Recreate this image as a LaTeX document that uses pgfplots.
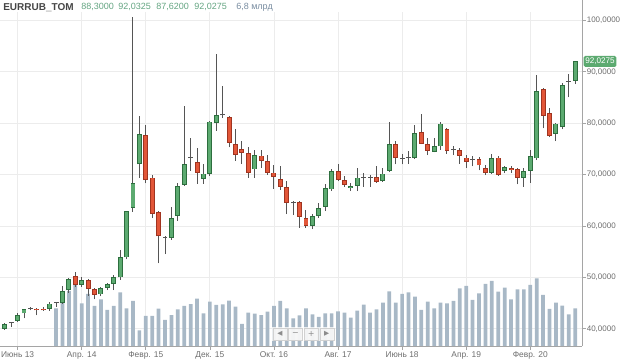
\documentclass[border=0pt]{standalone}
\usepackage{fontspec}
\setmainfont{Liberation Sans}
\newfontfamily\symfont{DejaVu Sans}
\usepackage{pgfplots}
\usepackage{pgfplotstable}
\pgfplotsset{compat=1.18}
\definecolor{cgreen}{RGB}{92,170,112}
\definecolor{cgreenb}{RGB}{45,110,62}
\definecolor{cred}{RGB}{226,86,56}
\definecolor{credb}{RGB}{160,52,32}
\definecolor{wick}{RGB}{85,85,85}
\definecolor{vol}{RGB}{168,184,198}
\definecolor{gridc}{RGB}{236,236,236}
\definecolor{axc}{RGB}{165,165,165}
\definecolor{lab}{RGB}{110,110,110}
\definecolor{hdr}{RGB}{70,70,70}
\definecolor{hdrnum}{RGB}{100,165,130}
\definecolor{hdrvol}{RGB}{120,140,160}

% monthly candles, i = 0 is April 2013
\pgfplotstableread{
i O H L C
0 40.0 41.1 39.8 40.9
2 41.6 43.0 41.4 42.7
3 43.0 43.9 42.0 43.8
7 43.8 45.2 43.5 44.9
9 45.0 48.3 44.9 47.4
10 47.5 49.8 47.0 49.6
12 48.6 50.0 48.2 49.5
15 46.7 48.1 46.3 47.9
16 47.9 49.0 47.5 48.7
17 48.7 50.4 47.5 50.1
18 50.0 55.3 49.5 53.9
19 53.9 63.0 53.5 62.9
20 63.5 100.7 62.8 68.4
21 72.0 81.4 69.4 77.8
26 57.7 63.6 57.3 61.6
27 62.0 68.4 61.0 67.8
28 68.0 83.3 67.8 72.0
31 69.1 72.0 68.2 70.2
32 70.2 80.4 69.8 80.3
33 80.1 93.5 78.5 81.6
39 71.0 74.8 69.4 73.8
48 60.0 62.4 59.4 61.9
49 61.9 64.5 61.6 63.5
50 63.7 68.1 62.9 67.4
51 67.1 71.0 66.9 70.7
54 67.4 68.4 66.8 67.8
55 67.8 71.3 66.8 69.4
59 68.7 71.2 68.6 70.2
60 70.7 80.3 70.5 76.0
64 73.2 79.7 73.0 78.1
67 74.4 77.2 74.3 75.5
68 75.5 80.3 74.8 79.9
76 70.4 74.1 70.2 73.15
78 70.7 71.6 70.3 71.5
81 69.3 71.2 67.6 70.7
82 70.7 74.7 68.4 73.6
83 73.15 89.4 72.8 86.3
86 77.9 80.0 76.5 79.9
87 79.2 87.8 78.8 87.4
89 88.3 92.0325 87.62 92.0275
}\tgreen

\pgfplotstableread{
i O H L C
5 43.9 44.0 42.6 43.6
6 43.9 44.2 43.5 43.6
11 50.3 51.1 48.2 48.6
13 49.4 49.6 46.4 47.7
14 47.7 48.0 45.7 46.6
22 77.7 79.7 68.3 68.9
23 69.4 70.0 61.6 62.4
24 62.7 62.9 52.7 58.0
30 72.5 75.2 68.2 70.4
35 81.2 81.3 75.3 76.2
36 76.0 78.8 72.7 73.9
37 74.9 76.5 72.1 74.2
38 74.2 75.3 69.4 70.4
40 73.7 74.7 71.3 72.6
41 72.6 73.8 70.0 70.35
42 70.4 71.8 67.2 69.5
43 69.1 71.6 67.0 67.6
44 67.6 68.7 62.3 64.5
46 64.6 64.8 59.7 61.8
47 61.6 63.2 59.7 60.0
52 70.7 72.0 68.7 68.9
53 68.9 69.7 67.6 68.0
58 69.5 71.6 68.4 68.6
61 76.0 76.6 72.0 73.2
65 78.3 81.7 75.9 76.0
66 75.9 77.2 73.8 74.6
69 78.8 79.0 74.1 74.6
71 74.7 75.1 72.1 73.7
72 73.3 73.8 71.3 72.5
74 73.0 73.4 70.8 71.8
75 71.3 71.8 69.9 70.4
77 73.3 73.6 69.8 69.9
79 71.2 71.6 70.4 70.9
80 71.0 71.3 68.1 69.4
84 86.6 86.8 79.0 81.4
85 82.0 83.0 77.3 77.5
}\tred

\pgfplotstableread{
i O H L C
1 41.1 41.3 40.3 41.3
4 43.85 44.3 43.6 44.05
8 44.95 45.2 44.3 45.15
25 57.75 58.1 54.5 57.95
29 73.4 77.1 70.7 73.2
34 81.7 87.2 81.0 81.5
45 64.6 64.8 62.1 64.4
56 69.5 70.4 67.6 69.3
57 69.4 69.9 67.6 69.6
62 73.2 74.0 72.0 73.0
63 73.2 74.5 72.1 73.4
70 75.0 75.5 73.8 74.8
73 73.1 73.7 71.6 72.9
88 88.0 89.5 85.0 88.2
}\tdoji

% volume bars (drawn on the price scale as in the screenshot)
\pgfplotstableread{
i v
8 43.99
9 45.12
10 47.35
11 48.72
12 44.92
13 46.77
14 44.44
15 45.74
16 43.66
17 44.44
18 47.06
19 43.99
20 45.41
21 39.67
22 42.53
23 42.53
24 43.93
25 41.71
26 42.68
27 43.79
28 44.47
29 44.79
30 45.86
31 43.02
32 45.27
33 44.63
34 44.77
35 45.47
36 44.30
37 40.93
38 43.13
39 42.94
40 42.68
41 43.33
42 44.44
43 45.41
44 43.99
45 42.04
46 42.63
47 43.99
48 42.82
49 42.30
50 43.02
51 43.02
52 43.40
53 43.13
54 42.16
55 43.52
56 44.69
57 43.13
58 43.79
59 45.08
60 47.30
61 45.08
62 46.77
63 47.10
64 46.25
65 43.66
66 45.27
67 43.99
68 45.08
69 44.96
70 45.41
71 47.88
72 48.33
73 45.60
74 46.91
75 48.72
76 49.30
77 47.22
78 48.00
79 45.74
80 47.68
81 47.68
82 48.52
83 49.82
84 46.58
85 43.85
86 45.08
87 44.49
88 42.82
89 43.99
}\tvol

\pgfplotsset{
  wickst/.style={draw=none, mark=none, forget plot,
    error bars/.cd, y dir=plus, y explicit, error mark=none,
    error bar style={line width=0.75pt, draw=wick}},
  bodyst/.style 2 args={draw=none, mark=none, forget plot,
    error bars/.cd, y dir=plus, y explicit, error mark=none,
    error bar style={line width=#1, draw=#2}},
  bodyin/.style 2 args={draw=none, mark=none, forget plot,
    error bars/.cd, y dir=plus, y explicit, error mark=none,
    error bar style={line width=#1, draw=#2, shorten <=0.6pt, shorten >=0.6pt}},
}

\begin{document}
\begin{tikzpicture}
\path[use as bounding box] (0,0) rectangle (465pt,269.25pt);
\begin{axis}[
  at={(0pt,9.75pt)}, anchor=south west, scale only axis,
  width=436.5pt, height=250.5pt,
  xmin=-0.749, xmax=90.07, ymin=36.65, ymax=101.63,
  axis x line*=bottom, axis y line*=right,
  axis line style={draw=axc, line width=0.6pt, -},
  xtick={2,12,...,82},
  xticklabels={Июнь 13,Апр. 14,Февр. 15,Дек. 15,Окт. 16,Авг. 17,Июнь 18,Апр. 19,Февр. 20},
  ytick={40,50,...,100},
  grid=major, major grid style={draw=gridc, line width=0.6pt},
  tick align=outside, major tick length=3pt,
  tick style={draw=axc, line width=0.5pt},
  /pgf/number format/assume math mode=true,
  ticklabel style={font=\fontsize{6.3}{7}\selectfont, text=lab},
  xticklabel style={yshift=2.6pt},
  yticklabel style={font=\fontsize{6}{7}\selectfont, inner xsep=0.8pt, xshift=-0.4pt,
     /pgf/number format/fixed, /pgf/number format/fixed zerofill,
     /pgf/number format/precision=4, /pgf/number format/use comma,
     /pgf/number format/1000 sep={}},
]
\addplot[ybar, bar width=2.8pt, fill=vol, draw=none, forget plot] table[x=i, y=v] {\tvol};

\addplot[wickst] table[x=i, y=L, y error plus expr=\thisrow{H}-\thisrow{L}] {\tgreen};
\addplot[wickst] table[x=i, y=L, y error plus expr=\thisrow{H}-\thisrow{L}] {\tred};
\addplot[wickst] table[x=i, y=L, y error plus expr=\thisrow{H}-\thisrow{L}] {\tdoji};

\addplot[bodyst={3.7pt}{cgreenb}] table[x=i, y=O, y error plus expr=\thisrow{C}-\thisrow{O}] {\tgreen};
\addplot[bodyin={2.3pt}{cgreen}] table[x=i, y=O, y error plus expr=\thisrow{C}-\thisrow{O}] {\tgreen};
\addplot[bodyst={3.7pt}{credb}] table[x=i, y=C, y error plus expr=\thisrow{O}-\thisrow{C}] {\tred};
\addplot[bodyin={2.3pt}{cred}] table[x=i, y=C, y error plus expr=\thisrow{O}-\thisrow{C}] {\tred};
\addplot[bodyst={3.7pt}{wick}] table[x=i, y expr={min(\thisrow{O},\thisrow{C})}, y error plus expr={abs(\thisrow{C}-\thisrow{O})}] {\tdoji};
\end{axis}

% right axis line up to the top
\draw[axc, line width=0.6pt] (436.5pt,9.75pt) -- (436.5pt,269.25pt);

% header
\node[anchor=west, inner sep=0, font=\bfseries\fontsize{7.5}{9}\selectfont, text=hdr] at (2.25pt,263.8pt) {EURRUB\_TOM};
\begin{scope}[every node/.style={anchor=west, inner sep=0, font=\fontsize{6.75}{8}\selectfont, text=hdrnum}]
\node at (60.75pt,263.8pt) {88,3000};
\node at (88.5pt,263.8pt) {92,0325};
\node at (117pt,263.8pt) {87,6200};
\node at (145.5pt,263.8pt) {92,0275};
\node[text=hdrvol] at (177pt,263.8pt) {6,8 млрд};
\end{scope}

% last price tag
\node[fill=cgreen, text=white, rounded corners=1.2pt, inner xsep=1.3pt, inner ysep=1.6pt,
  anchor=west, font=\fontsize{6.1}{7}\selectfont] at (437.5pt,223.2pt) {92,0275};

% navigation widget
\begin{scope}
\fill[white, opacity=0.75] (204pt,13.5pt) rectangle (251pt,24pt);
\foreach \k in {0,1,2,3}{
  \draw[black!18, line width=0.4pt, fill=black!4, fill opacity=0.8] ({204pt+\k*11.75pt+0.6pt},14.1pt) rectangle ({204pt+(\k+1)*11.75pt-0.6pt},23.4pt);
}
\node[font=\symfont\fontsize{5}{6}\selectfont, text=black!45] at (209.9pt,18.75pt) {◀};
\node[font=\symfont\fontsize{6}{6}\selectfont, text=black!45] at (221.6pt,18.75pt) {−};
\node[font=\symfont\fontsize{6}{6}\selectfont, text=black!45] at (233.4pt,18.75pt) {+};
\node[font=\symfont\fontsize{5}{6}\selectfont, text=black!45] at (245.1pt,18.75pt) {▶};
\end{scope}
\end{tikzpicture}
\end{document}
